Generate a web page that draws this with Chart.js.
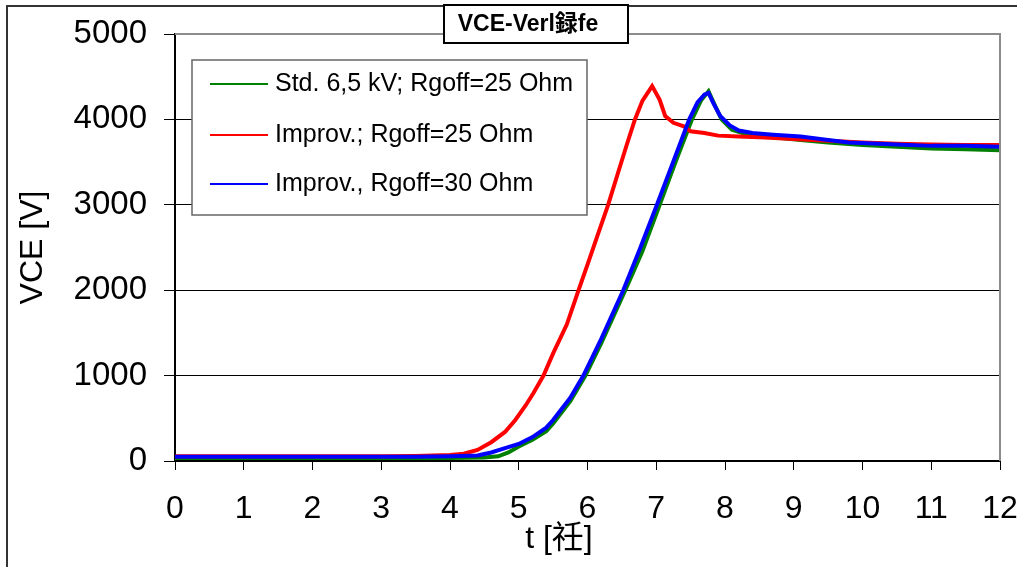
<!DOCTYPE html>
<html lang="de">
<head>
<meta charset="UTF-8">
<title>VCE-Verläufe</title>
<script src="https://cdn.jsdelivr.net/npm/chart.js"></script>
<style>
  html, body { margin: 0; padding: 0; background: #fff; }
</style>
</head>
<body>
<canvas id="vceChart" width="1017" height="567"></canvas>
<script>
// Zeit in µs, Spannung in V
const xTickLabels = ['0','1','2','3','4','5','6','7','8','9','10','11','12'];
const yTickLabels = ['0','1000','2000','3000','4000','5000'];

const seriesNames = ['Std. 6,5 kV; Rgoff=25 Ohm', 'Improv.; Rgoff=25 Ohm', 'Improv., Rgoff=30 Ohm'];
const seriesColors = ['#008000', '#ff0000', '#0000ff'];

const tStd = [0, 0.5, 1, 1.5, 2, 2.5, 3, 3.5, 4, 4.5, 4.7, 4.85, 5.0, 5.2, 5.4, 5.5, 5.75, 5.97, 6.2, 6.55, 6.8, 7.05, 7.28, 7.52, 7.65, 7.76, 7.85, 7.95, 8.1, 8.3, 8.7, 9.1, 9.5, 10, 10.5, 11, 11.5, 12];
const vStd = [35, 35, 35, 35, 35, 35, 35, 35, 35, 40, 55, 100, 170, 250, 350, 440, 700, 1000, 1380, 2000, 2460, 3000, 3500, 4000, 4220, 4330, 4170, 4000, 3880, 3830, 3790, 3760, 3730, 3700, 3680, 3660, 3650, 3640];

const tImp25 = [0, 0.5, 1, 1.5, 2, 2.5, 3, 3.5, 4, 4.2, 4.4, 4.6, 4.8, 4.95, 5.1, 5.21, 5.36, 5.5, 5.7, 5.87, 6.0, 6.15, 6.3, 6.45, 6.57, 6.69, 6.8, 6.94, 7.05, 7.13, 7.25, 7.4, 7.5, 7.7, 7.9, 8.2, 8.5, 9, 9.5, 10, 10.5, 11, 11.5, 12];
const vImp25 = [55, 55, 55, 55, 55, 55, 55, 60, 70, 85, 130, 220, 340, 480, 650, 790, 1000, 1260, 1600, 2000, 2300, 2650, 3000, 3390, 3700, 4000, 4220, 4390, 4230, 4040, 3960, 3920, 3860, 3840, 3810, 3800, 3790, 3770, 3750, 3730, 3715, 3705, 3700, 3700];

const tImp30 = [0, 0.5, 1, 1.5, 2, 2.5, 3, 3.5, 4, 4.4, 4.6, 4.8, 5.0, 5.2, 5.4, 5.5, 5.75, 5.94, 6.2, 6.52, 6.76, 7.01, 7.25, 7.48, 7.6, 7.7, 7.76, 7.83, 7.93, 8.07, 8.2, 8.4, 8.7, 9.1, 9.5, 9.8, 10.5, 11, 11.5, 12];
const vImp30 = [50, 50, 50, 50, 50, 50, 50, 50, 55, 65, 100, 150, 200, 280, 390, 480, 740, 1000, 1430, 2000, 2480, 3000, 3510, 4000, 4200, 4290, 4310, 4190, 4040, 3930, 3870, 3840, 3820, 3800, 3760, 3730, 3705, 3690, 3690, 3680];

const FONT = "'Liberation Sans', Arial, 'Noto Sans CJK JP', sans-serif";

function toPoints(ts, vs) {
    return ts.map((t, i) => ({ x: t, y: vs[i] }));
}

// Rahmen, Titelkasten, Legende und x-Achsentitel
const decorations = {
    id: 'decorations',
    afterDraw(chart) {
        const ctx = chart.ctx;
        const area = chart.chartArea;
        const xs = chart.scales.x;
        ctx.save();

        // äußerer Rahmen (rechts/unten abgeschnitten)
        ctx.strokeStyle = '#333';
        ctx.lineWidth = 2;
        ctx.beginPath();
        ctx.moveTo(7, chart.height);
        ctx.lineTo(7, 6);
        ctx.lineTo(chart.width, 6);
        ctx.stroke();

        // Plotrahmen oben/rechts grau
        ctx.strokeStyle = '#8c8c8c';
        ctx.lineWidth = 2;
        ctx.beginPath();
        ctx.moveTo(area.left, area.top);
        ctx.lineTo(area.right, area.top);
        ctx.lineTo(area.right, area.bottom);
        ctx.stroke();

        // Legende
        ctx.fillStyle = '#fff';
        ctx.fillRect(192, 60, 395, 155);
        ctx.strokeStyle = '#666';
        ctx.lineWidth = 1.5;
        ctx.strokeRect(192, 60, 395, 155);
        const rows = [84, 135, 184];
        ctx.font = '25px ' + FONT;
        ctx.textBaseline = 'middle';
        ctx.textAlign = 'left';
        seriesNames.forEach((name, i) => {
            ctx.strokeStyle = seriesColors[i];
            ctx.lineWidth = 2;
            ctx.beginPath();
            ctx.moveTo(210, rows[i]);
            ctx.lineTo(268, rows[i]);
            ctx.stroke();
            ctx.fillStyle = '#000';
            ctx.fillText(name, 275, rows[i]);
        });

        // Titelkasten
        ctx.fillStyle = '#fff';
        ctx.fillRect(444, 5, 184, 38);
        ctx.strokeStyle = '#000';
        ctx.lineWidth = 2;
        ctx.strokeRect(444, 5, 184, 38);
        ctx.fillStyle = '#000';
        ctx.font = 'bold 23px ' + FONT;
        ctx.textAlign = 'center';
        ctx.fillText('VCE-Verl録fe', 528, 25);

        // x-Achsentitel
        ctx.font = '32px ' + FONT;
        ctx.fillText('t [祍]', xs.getPixelForValue(5.585), 539);

        ctx.restore();
    }
};

new Chart(document.getElementById('vceChart'), {
    type: 'line',
    data: {
        datasets: [
            { label: seriesNames[0], data: toPoints(tStd, vStd), borderColor: seriesColors[0], order: 3 },
            { label: seriesNames[1], data: toPoints(tImp25, vImp25), borderColor: seriesColors[1], order: 2 },
            { label: seriesNames[2], data: toPoints(tImp30, vImp30), borderColor: seriesColors[2], order: 1 }
        ]
    },
    options: {
        responsive: false,
        animation: false,
        devicePixelRatio: 1,
        layout: { padding: { left: 0, right: 17, top: 34, bottom: 0 } },
        elements: {
            line: { borderWidth: 4, tension: 0, fill: false },
            point: { radius: 0 }
        },
        plugins: {
            legend: { display: false },
            tooltip: { enabled: false }
        },
        scales: {
            x: {
                type: 'linear',
                min: 0,
                max: 12,
                afterFit(scale) {
                    scale.height = 106;
                    scale.paddingLeft = 0;
                    scale.paddingRight = 0;
                },
                ticks: {
                    stepSize: 1,
                    color: '#000',
                    padding: 20,
                    font: { size: 32, family: FONT },
                    callback: (v, i) => xTickLabels[i]
                },
                grid: { drawOnChartArea: false, tickLength: 9, color: '#000' },
                border: { color: '#000', width: 2 }
            },
            y: {
                min: 0,
                max: 5000,
                afterFit(scale) {
                    scale.width = 175;
                    scale.paddingTop = 0;
                    scale.paddingBottom = 0;
                },
                ticks: {
                    stepSize: 1000,
                    color: '#000',
                    padding: 17,
                    font: { size: 33, family: FONT },
                    callback: (v, i) => yTickLabels[i]
                },
                grid: {
                    tickLength: 11,
                    tickColor: '#000',
                    color: ctx => (ctx.tick && ctx.tick.value > 0 && ctx.tick.value < 5000) ? '#000' : 'rgba(0,0,0,0)'
                },
                border: { color: '#000', width: 2 },
                title: {
                    display: true,
                    text: 'VCE [V]',
                    color: '#000',
                    font: { size: 32, family: FONT },
                    padding: { top: 14, bottom: 0 }
                }
            }
        }
    },
    plugins: [decorations]
});
</script>
</body>
</html>
